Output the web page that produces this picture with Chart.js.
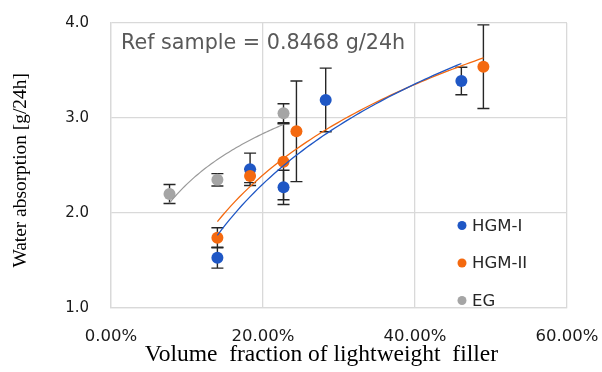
<!DOCTYPE html>
<html><head><meta charset="utf-8">
<script src="https://cdn.jsdelivr.net/npm/chart.js@4.4.1/dist/chart.umd.min.js"></script>
<style>html,body{margin:0;padding:0;background:#fff;}#wrap{width:602px;height:372px;}</style>
</head><body><div id="wrap"><canvas id="c" width="602" height="372"></canvas></div>
<script>
// ---- data ----
const seriesNames = ['HGM-I', 'HGM-II', 'EG'];
const hgm1X   = [14.0, 18.3, 22.7, 28.25, 46.1];
const hgm1Y   = [1.53, 2.46, 2.27, 3.19, 3.39];
const hgm1Err = [0.11, 0.17, 0.18, 0.335, 0.145];
const hgm2X   = [14.0, 18.3, 22.7, 24.4, 49.0];
const hgm2Y   = [1.74, 2.39, 2.54, 2.86, 3.54];
const hgm2Err = [0.105, 0.07, 0.40, 0.53, 0.44];
const egX     = [7.7, 14.0, 22.7];
const egY     = [2.20, 2.35, 3.05];
const egErr   = [0.10, 0.065, 0.10];
const xTicks  = [0, 20, 40, 60];
const yTicks  = [1, 2, 3, 4];
const refLabel = 'Ref sample = 0.8468 g/24h';
const xTitle = 'Volume  fraction of lightweight  filler      ';
const yTitle = 'Water absorption [g/24h]  ';

const colors = ['#1F57C5', '#F4690F', '#A5A5A5'];

function pts(xs, ys) { return xs.map((x, i) => ({x: x, y: ys[i]})); }
// Excel-style logarithmic trendline (least squares on ln x), evaluated along the data range
function logTrend(xs, ys) {
  const n = xs.length;
  const lx = xs.map(Math.log);
  const mx = lx.reduce((a, b) => a + b, 0) / n;
  const my = ys.reduce((a, b) => a + b, 0) / n;
  let sxy = 0, sxx = 0;
  for (let i = 0; i < n; i++) { sxy += (lx[i] - mx) * (ys[i] - my); sxx += (lx[i] - mx) * (lx[i] - mx); }
  const b = sxy / sxx, a = my - b * mx;
  const lo = Math.min(...xs), hi = Math.max(...xs);
  const out = [];
  const steps = 60;
  for (let k = 0; k <= steps; k++) { const x = lo + (hi - lo) * k / steps; out.push({x: x, y: a + b * Math.log(x)}); }
  return out;
}

const errorBars = {
  id: 'errorBars',
  beforeDatasetsDraw(chart) {
    const ctx = chart.ctx, xs = chart.scales.x, ys = chart.scales.y;
    ctx.save();
    ctx.strokeStyle = '#262626';
    ctx.lineWidth = 1.4;
    chart.data.datasets.forEach(ds => {
      if (!ds.errs) return;
      ds.data.forEach((p, i) => {
        const px = xs.getPixelForValue(p.x);
        const y1 = ys.getPixelForValue(p.y + ds.errs[i]);
        const y2 = ys.getPixelForValue(p.y - ds.errs[i]);
        ctx.beginPath();
        ctx.moveTo(px, y1); ctx.lineTo(px, y2);
        ctx.moveTo(px - 6, y1); ctx.lineTo(px + 6, y1);
        ctx.moveTo(px - 6, y2); ctx.lineTo(px + 6, y2);
        ctx.stroke();
      });
    });
    ctx.restore();
  }
};

const extras = {
  id: 'extras',
  afterDraw(chart) {
    const ctx = chart.ctx, a = chart.chartArea;
    ctx.save();
    ctx.fillStyle = '#595959';
    ctx.font = '20.7px "DejaVu Sans"';
    ctx.textBaseline = 'middle';
    ctx.textAlign = 'left';
    ctx.fillText(refLabel, a.left + 10, a.top + 20.5);
    // legend
    ctx.font = '16.5px "DejaVu Sans"';
    seriesNames.forEach((name, i) => {
      const y = a.top + 202.5 + i * 37.5;
      const x = a.left + 351;
      ctx.beginPath();
      ctx.fillStyle = colors[i];
      ctx.arc(x, y, 4.5, 0, Math.PI * 2);
      ctx.fill();
      ctx.fillStyle = '#262626';
      ctx.fillText(name, x + 10, y + 1);
    });
    ctx.restore();
  }
};

const datasets = [
  {label: seriesNames[0], data: pts(hgm1X, hgm1Y), errs: hgm1Err, backgroundColor: colors[0], borderColor: colors[0], pointRadius: 6, showLine: false, order: 3},
  {label: seriesNames[1], data: pts(hgm2X, hgm2Y), errs: hgm2Err, backgroundColor: colors[1], borderColor: colors[1], pointRadius: 6, showLine: false, order: 2},
  {label: seriesNames[2], data: pts(egX, egY), errs: egErr, backgroundColor: colors[2], borderColor: colors[2], pointRadius: 6, showLine: false, order: 1},
  {label: 'trend HGM-I', data: logTrend(hgm1X, hgm1Y), borderColor: colors[0], borderWidth: 1.3, pointRadius: 0, showLine: true, fill: false, order: 0},
  {label: 'trend HGM-II', data: logTrend(hgm2X, hgm2Y), borderColor: colors[1], borderWidth: 1.3, pointRadius: 0, showLine: true, fill: false, order: 0},
  {label: 'trend EG', data: logTrend(egX, egY), borderColor: '#9a9a9a', borderWidth: 1.2, pointRadius: 0, showLine: true, fill: false, order: 0}
];

new Chart(document.getElementById('c'), {
  type: 'scatter',
  data: {datasets: datasets},
  options: {
    responsive: false,
    animation: false,
    devicePixelRatio: 1,
    layout: {padding: {top: 23, right: 35, bottom: 0, left: 0}},
    plugins: {legend: {display: false}, tooltip: {enabled: false}},
    elements: {point: {borderWidth: 0}},
    scales: {
      x: {
        type: 'linear', min: 0, max: 60,
        afterBuildTicks: s => { s.ticks = xTicks.map(v => ({value: v})); },
        afterFit: s => { s.height = 64; },
        grid: {color: '#d9d9d9', lineWidth: 1.3, drawTicks: true, tickLength: 19, tickColor: 'rgba(0,0,0,0)'},
        border: {color: '#d9d9d9', width: 1.3},
        ticks: {padding: 0, color: '#1a1a1a', font: {family: 'DejaVu Sans', size: 16.5}, callback: v => v.toFixed(2) + '%'},
        title: {display: true, text: xTitle, color: '#000', font: {family: 'Liberation Serif', size: 23.5, lineHeight: 1}, padding: {top: 0, bottom: 5}}
      },
      y: {
        type: 'linear', min: 1, max: 4,
        afterBuildTicks: s => { s.ticks = yTicks.map(v => ({value: v})); },
        afterFit: s => { s.width = 111; },
        grid: {color: '#d9d9d9', lineWidth: 1.3, drawTicks: true, tickLength: 22, tickColor: 'rgba(0,0,0,0)'},
        border: {color: '#d9d9d9', width: 1.3},
        ticks: {padding: 0, color: '#1a1a1a', font: {family: 'DejaVu Sans', size: 15}, callback: v => v.toFixed(1)},
        title: {display: true, text: yTitle, color: '#000', font: {family: 'Liberation Serif', size: 19.4, lineHeight: 1.2}, padding: {top: 9, bottom: 0}}
      }
    }
  },
  plugins: [errorBars, extras]
});
</script>
</body></html>
